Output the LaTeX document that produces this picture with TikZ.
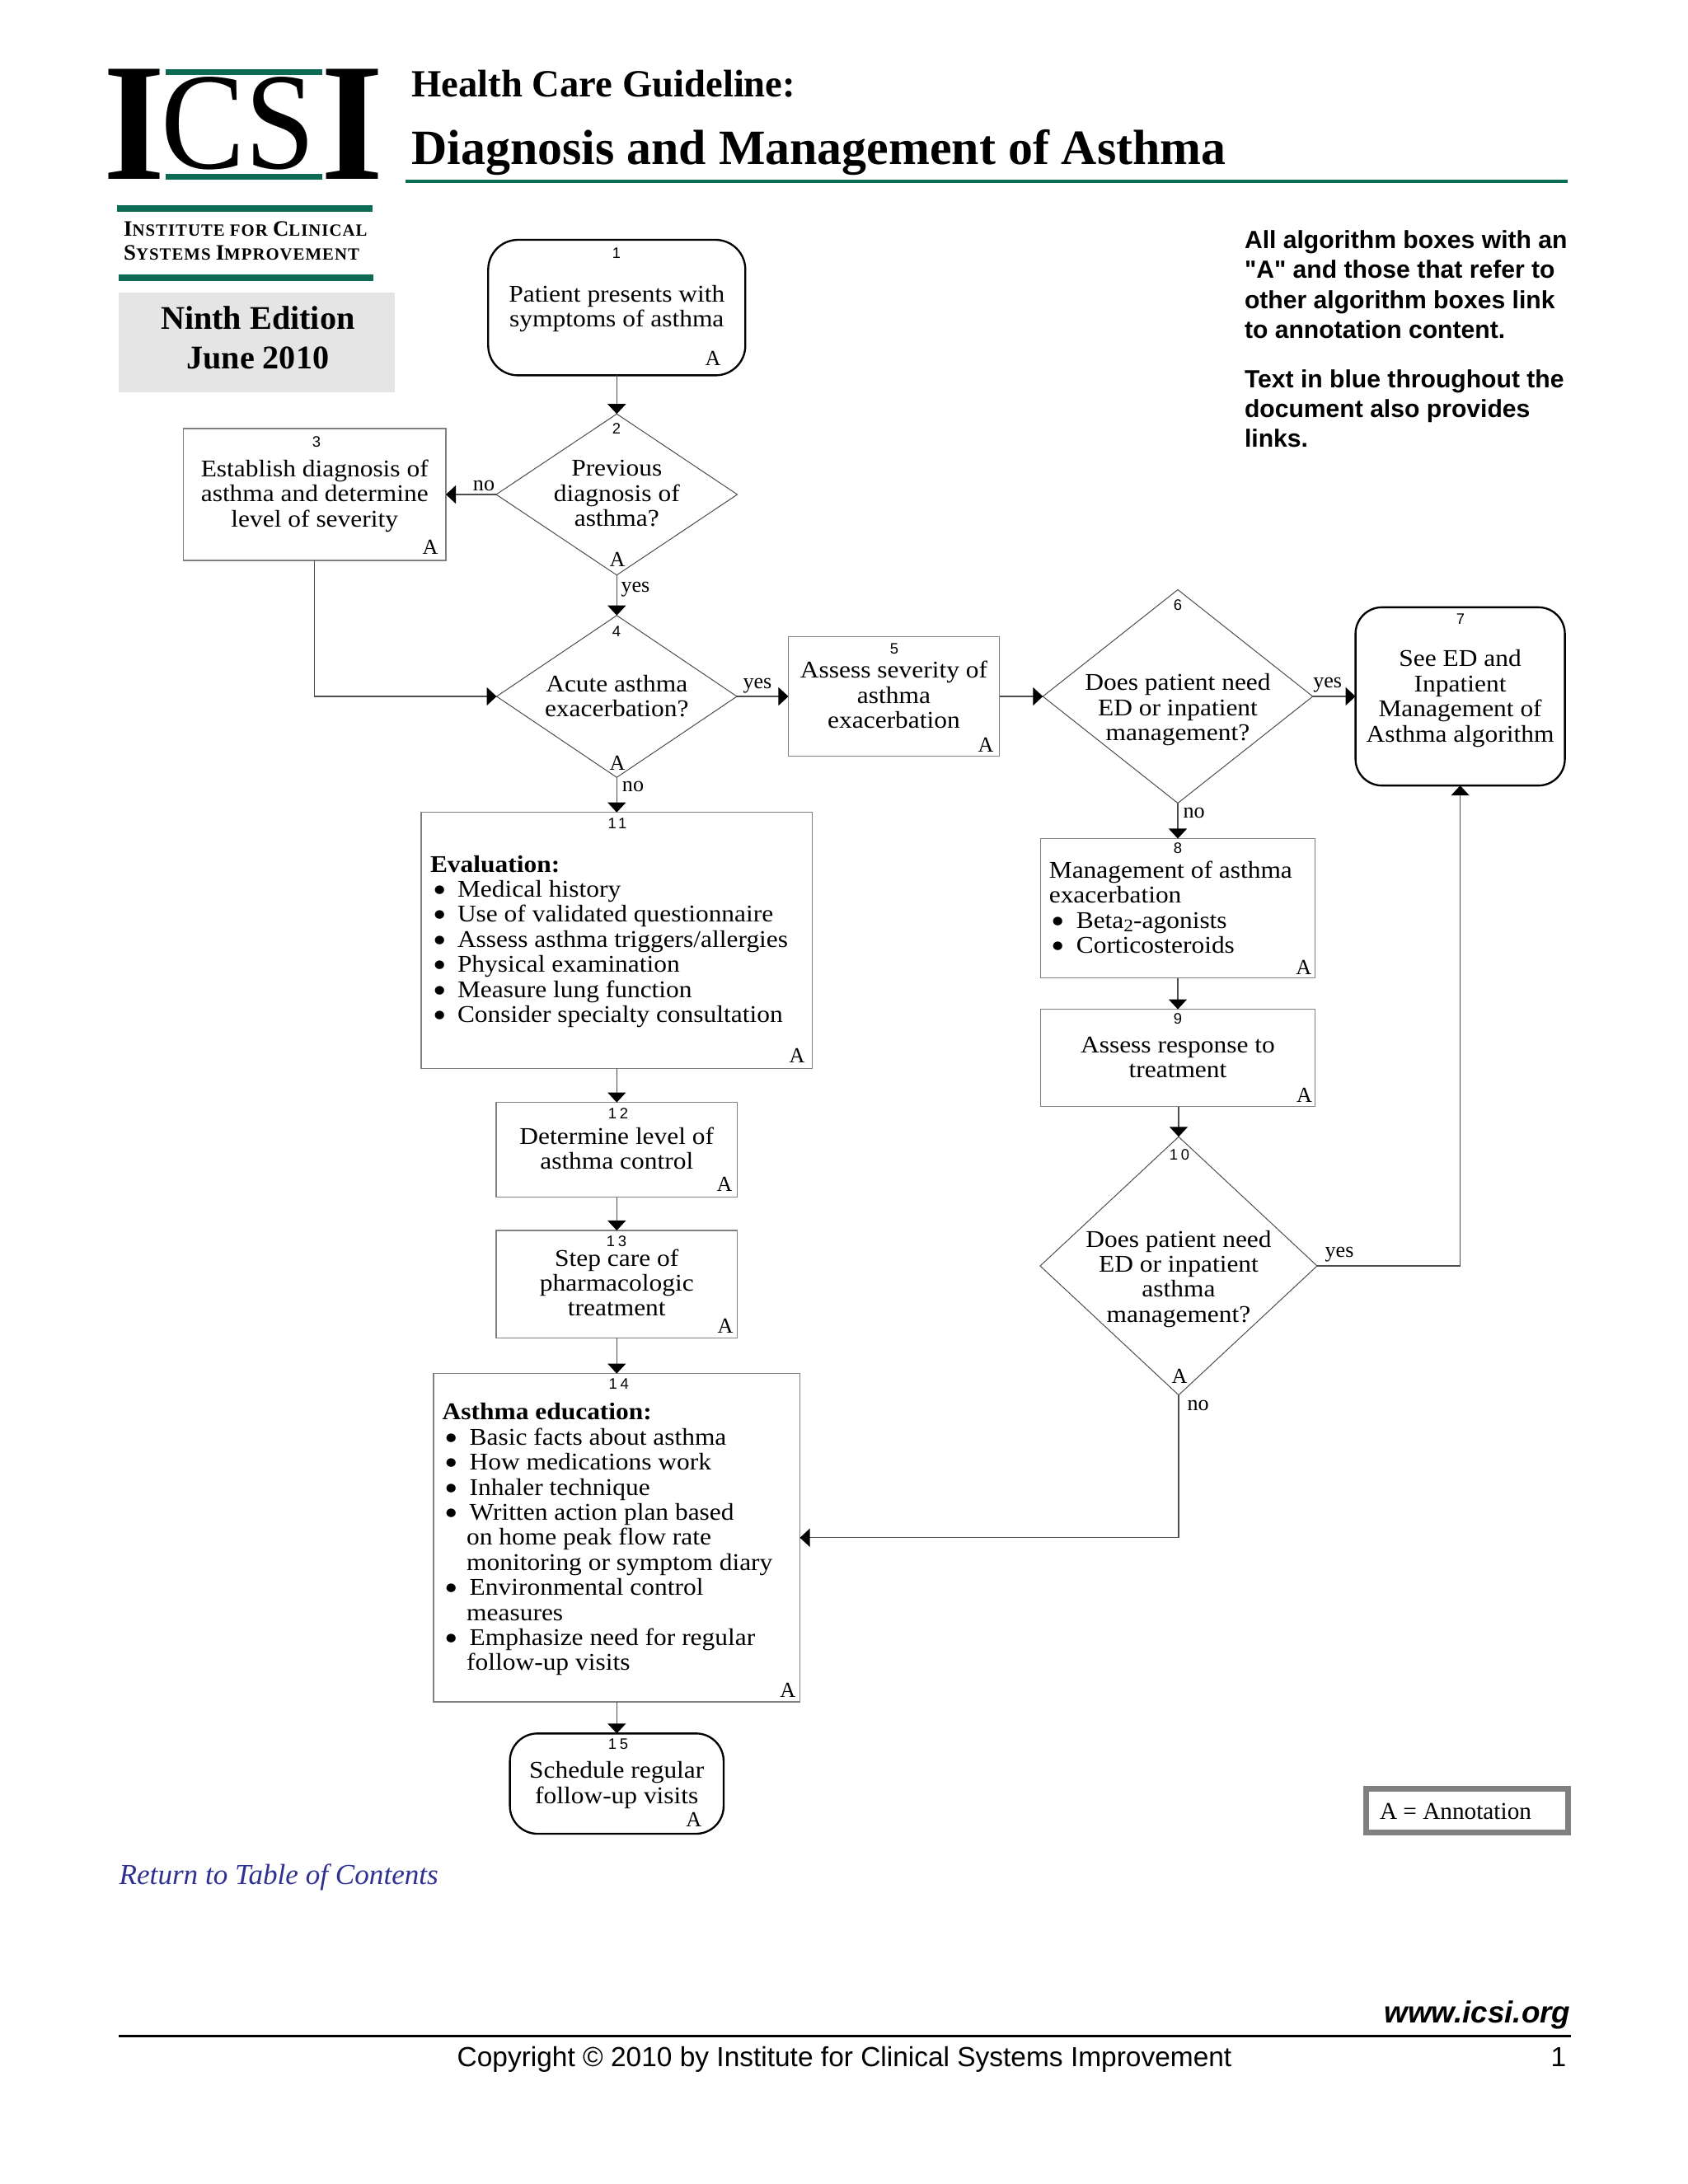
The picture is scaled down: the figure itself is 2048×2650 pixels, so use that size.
\documentclass[tikz,border=0pt]{standalone}
\usepackage{fontspec}
\usetikzlibrary{shapes.geometric,arrows.meta}

\newfontfamily\bodyfam[FakeStretch=1.08]{Liberation Serif}
\newfontfamily\timesfam{Liberation Serif}
\newfontfamily\arialfam{Liberation Sans}
\newfontfamily\numfam[LetterSpace=20]{Liberation Sans}
\newfontfamily\capsfam[LetterSpace=5]{Liberation Serif}

\newcommand{\boxfont}{\bodyfam\fontsize{8.7}{9.085}\selectfont}
\newcommand{\labfont}{\timesfam\fontsize{7.8}{9}\selectfont}
\newcommand{\numfont}{\numfam\fontsize{5.5}{6}\selectfont}
\newcommand{\notefont}{\arialfam\bfseries\fontsize{9}{10.76}\selectfont}
\newcommand{\capinit}[1]{{\fontsize{8}{9}\selectfont #1}}

\definecolor{icsigreen}{HTML}{0C6B55}
\definecolor{linkblue}{HTML}{2E3192}

% one picture unit is one pixel of the page
\newlength\pxu
\setlength\pxu{0.29883pt}

% texts are hung from the baseline of their last line
\newcommand{\ctext}[2]{\raisebox{#1\pxu}[0pt][0pt]{\makebox[0pt]{\begin{tabular}[b]{@{}c@{}}#2\end{tabular}}}}
\newcommand{\ltext}[3]{\raisebox{#2\pxu}[0pt][0pt]{\makebox[0pt][l]{\hspace*{#1\pxu}\begin{tabular}[b]{@{}l@{}}#3\end{tabular}}}}
\newcommand{\itm}[1]{\hspace*{#1\pxu}\makebox[30\pxu][l]{\raisebox{-1.8pt}{\fontsize{13}{9}\selectfont\textbullet}}}

\tikzset{
  sized/.style 2 args={minimum width=#1*\pxu, minimum height=#2*\pxu},
  procbox/.style={rectangle, draw=black!50, line width=.4pt, inner sep=0pt, outer sep=0pt, font=\boxfont},
  endbox/.style={rectangle, rounded corners=10pt, draw=black, line width=.7pt, inner sep=0pt, outer sep=0pt, font=\boxfont},
  askbox/.style={diamond, draw=black!70, line width=.3pt, inner sep=0pt, outer sep=0pt, font=\boxfont},
  flow/.style={-{Triangle[length=3.6pt,width=6.6pt,black]}, draw=black!70, line width=.4pt},
  numlab/.style={inner sep=0pt, font=\numfont},
  alab/.style={inner sep=0pt, anchor=base, font=\labfont},
  plain/.style={inner sep=0pt, anchor=base west},
}

\begin{document}
\begin{tikzpicture}[x=0.29883pt, y=-0.29883pt]
\useasboundingbox (0,0) rectangle (2048,2650);

% Logo
\node (logoL) at (163.3,151.2) [inner sep=0pt, font=\timesfam\bfseries] {\resizebox{75\pxu}{133.5\pxu}{I}};
\node (logoM) at (289,150.3) [inner sep=0pt, font=\timesfam] {\resizebox{187\pxu}{111\pxu}{CS}};
\node (logoR) at (428,151.2) [inner sep=0pt, font=\timesfam\bfseries] {\resizebox{76\pxu}{133.5\pxu}{I}};
\fill[icsigreen] (200.5,83.5) rectangle (391,91);
\fill[icsigreen] (200.5,210.7) rectangle (391,218);
\fill[icsigreen] (142,249) rectangle (451.5,257);
\fill[icsigreen] (144,333) rectangle (453,340.6);
\node (inst1) at (149.5,286.6) [plain, font=\capsfam\bfseries\fontsize{6.2}{7}\selectfont] {\capinit{I}NSTITUTE FOR \capinit{C}LINICAL};
\node (inst2) at (149.5,315.6) [plain, font=\capsfam\bfseries\fontsize{6.2}{7}\selectfont] {\capinit{S}YSTEMS \capinit{I}MPROVEMENT};

% Edition
\node (edition) at (311.25,415.25) [rectangle, inner sep=0pt, fill=black!10, sized={334.5}{121.5}, font=\timesfam\bfseries\fontsize{12}{14.34}\selectfont] {\ctext{-31.75}{\hspace*{3\pxu}Ninth Edition\\\hspace*{3\pxu}June 2010}};

% Title
\node (head1) at (498.6,117.3) [plain, font=\timesfam\bfseries\fontsize{13.95}{16}\selectfont] {Health Care Guideline:};
\node (head2) at (498.6,199.3) [plain, font=\timesfam\bfseries\fontsize{17.9}{20}\selectfont] {Diagnosis and Management of Asthma};
\fill[icsigreen] (492,218.3) rectangle (1902,221.6);

% Note
\node (note1) at (1510,410) [font=\notefont, inner sep=0pt] {\ltext{0}{0}{All algorithm boxes with an\\"A" and those that refer to\\other algorithm boxes link\\to annotation content.}};
\node (note2) at (1510,542) [font=\notefont, inner sep=0pt] {\ltext{0}{0}{Text in blue throughout the\\document also provides\\links.}};

% Left column
\node (b1) at (748.3,373.2) [endbox, rounded corners=10.8pt, sized={312}{164.4}] {\ctext{-23.2}{Patient presents with\\symptoms of asthma}};
\node (d2) at (748.3,600) [askbox, sized={292.5}{195.5}] {\ctext{-38.4}{Previous\\diagnosis of\\asthma?}};
\node (b3) at (381.75,600) [procbox, sized={318.5}{160}] {\ctext{-39}{Establish diagnosis of\\asthma and determine\\level of severity}};
\node (d4) at (748.3,845) [askbox, sized={291.5}{196.5}] {\ctext{-24.5}{Acute asthma\\exacerbation?}};
\node (b11) at (748.3,1141.05) [procbox, sized={474.4}{310.7}] {\ltext{-226.3}{-99.5}{\textbf{Evaluation:}\\
  \itm{3}Medical history\\
  \itm{3}Use of validated questionnaire\\
  \itm{3}Assess asthma triggers/allergies\\
  \itm{3}Physical examination\\
  \itm{3}Measure lung function\\
  \itm{3}Consider specialty consultation}};
\node (b12) at (748.3,1395.2) [procbox, sized={292.7}{115.2}] {\ctext{-23.2}{Determine level of\\asthma control}};
\node (b13) at (748.3,1558.15) [procbox, sized={292.7}{130.3}] {\ctext{-38.8}{Step care of\\pharmacologic\\treatment}};
\node (b14) at (748.3,1865.8) [procbox, sized={444.4}{398.4}] {\ltext{-211.6}{-161}{\textbf{Asthma education:}\\
  \itm{3}Basic facts about asthma\\
  \itm{3}How medications work\\
  \itm{3}Inhaler technique\\
  \itm{3}Written action plan based\\
  \hspace*{29.5\pxu}on home peak flow rate\\
  \hspace*{29.5\pxu}monitoring or symptom diary\\
  \itm{3}Environmental control\\
  \hspace*{29.5\pxu}measures\\
  \itm{3}Emphasize need for regular\\
  \hspace*{29.5\pxu}follow-up visits}};
\node (b15) at (748.3,2164.15) [endbox, sized={259.3}{121.7}] {\ctext{-24}{Schedule regular\\follow-up visits}};

% Right columns
\node (b5) at (1084.5,845) [procbox, sized={256}{144.6}] {\ctext{-38.5}{Assess severity of\\asthma\\exacerbation}};
\node (d6) at (1429,845) [askbox, sized={327.4}{259}] {\ctext{-53.5}{Does patient need\\ED or inpatient\\management?}};
\node (b7) at (1771.6,845) [endbox, rounded corners=9.6pt, sized={254}{216.3}] {\ctext{-55}{See ED and\\Inpatient\\Management of\\Asthma algorithm}};
\node (b8) at (1429,1102.1) [procbox, sized={332.5}{169.2}] {\ltext{-156.2}{-54.5}{Management of asthma\\exacerbation\\
  \itm{3}Beta\raisebox{-1.2pt}{\fontsize{6.5}{7}\selectfont 2}-agonists\\
  \itm{3}Corticosteroids}};
\node (b9) at (1429,1283.55) [procbox, sized={332.5}{117.9}] {\ctext{-24}{Assess response to\\treatment}};
\node (d10) at (1430,1536) [askbox, sized={336}{313.4}] {\ctext{-68.3}{Does patient need\\ED or inpatient\\asthma\\management?}};

% Box numbers
\node (n1) at (748,306.7) [numlab] {1};
\node (n2) at (748,519.6) [numlab] {2};
\node (n3) at (384,535.7) [numlab] {3};
\node (n4) at (748,766) [numlab] {4};
\node (n5) at (1085,787.5) [numlab] {5};
\node (n6) at (1429,734.5) [numlab] {6};
\node (n7) at (1772,751.4) [numlab] {7};
\node (n8) at (1429,1029) [numlab] {8};
\node (n9) at (1429,1235.8) [numlab] {9};
\node (n10) at (1431,1400.8) [numlab] {10};
\node (n11) at (749,999) [numlab] {11};
\node (n12) at (750,1351.4) [numlab] {12};
\node (n13) at (748,1506) [numlab] {13};
\node (n14) at (750.7,1678.7) [numlab] {14};
\node (n15) at (750,2116) [numlab] {15};

% Annotation marks
\node (a1) at (865,443.8) [alab] {A};
\node (a2) at (749,687.5) [alab] {A};
\node (a3) at (522,672.8) [alab] {A};
\node (a4) at (749,934) [alab] {A};
\node (a5) at (1196,912) [alab] {A};
\node (a8) at (1581.7,1182) [alab] {A};
\node (a9) at (1582.6,1337) [alab] {A};
\node (a10) at (1431,1678) [alab] {A};
\node (a11) at (967,1289.7) [alab] {A};
\node (a12) at (879,1445) [alab] {A};
\node (a13) at (880,1617) [alab] {A};
\node (a14) at (955.7,2059) [alab] {A};
\node (a15) at (841.7,2216.7) [alab] {A};

% Arrows
\draw[flow] (b1.south) -- (d2.north);
\draw[flow] (d2.west) -- (b3.east);
\draw[flow] (d2.south) -- (d4.north);
\draw[flow] (b3.south) |- (d4.west);
\draw[flow] (d4.east) -- (b5.west);
\draw[flow] (d4.south) -- (b11.north);
\draw[flow] (b5.east) -- (d6.west);
\draw[flow] (d6.east) -- (b7.west);
\draw[flow] (d6.south) -- (b8.north);
\draw[flow] (b8.south) -- (b9.north);
\draw[flow] (d10.north |- b9.south) -- (d10.north);
\draw[flow] (d10.east) -| (b7.south);
\draw[flow] (d10.south) |- (b14.east);
\draw[flow] (b11.south) -- (b12.north);
\draw[flow] (b12.south) -- (b13.north);
\draw[flow] (b13.south) -- (b14.north);
\draw[flow] (b14.south) -- (b15.north);

% Arrow labels
\node (no2) at (587,595.5) [alab] {no};
\node (yes2) at (771,718) [alab] {yes};
\node (yes4) at (919,835) [alab] {yes};
\node (no4) at (768,960.7) [alab] {no};
\node (yes6) at (1610.7,834) [alab] {yes};
\node (no6) at (1448.7,992.5) [alab] {no};
\node (yes10) at (1625,1525) [alab] {yes};
\node (no10) at (1453.6,1711.5) [alab] {no};

% Legend
\node (legend) at (1780,2197) [rectangle, draw=black!50, line width=2pt, inner sep=0pt, sized={245.2}{53.3}, font=\timesfam\fontsize{8.75}{10}\selectfont] {\ltext{-106}{-10.7}{A = Annotation}};

% Footer
\node (back) at (144,2286) [plain, text=linkblue, font=\timesfam\itshape\fontsize{10.5}{12}\selectfont] {Return to Table of Contents};
\node (site) at (1906,2454) [inner sep=0pt, anchor=base east, font=\arialfam\bfseries\itshape\fontsize{11}{13}\selectfont] {www.icsi.org};
\fill[black] (144,2469) rectangle (1906,2472.3);
\node (copy) at (554,2507) [plain, font=\arialfam\fontsize{10}{12}\selectfont] {Copyright © 2010 by Institute for Clinical Systems Improvement};
\node (page) at (1901,2507) [inner sep=0pt, anchor=base east, font=\arialfam\fontsize{10}{12}\selectfont] {1};

\end{tikzpicture}
\end{document}
